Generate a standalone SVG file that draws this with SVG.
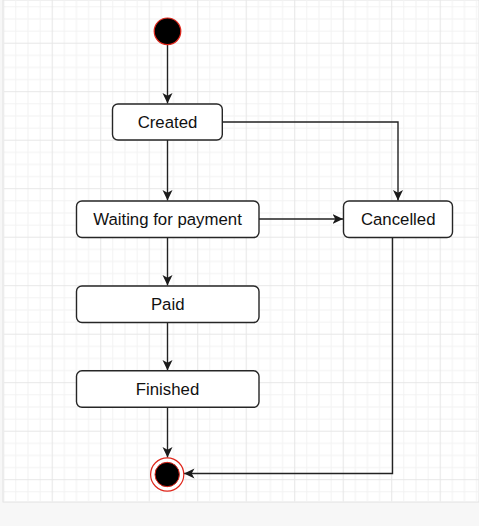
<svg xmlns="http://www.w3.org/2000/svg" width="479" height="526" viewBox="0 0 479 526">
  <defs>
    <pattern id="grid" patternUnits="userSpaceOnUse" x="3.2" y="42.7" width="48.5" height="48.5">
      <g stroke="#f2f2f2" stroke-width="1">
        <line x1="12.6" y1="0" x2="12.6" y2="48.5"/>
        <line x1="24.75" y1="0" x2="24.75" y2="48.5"/>
        <line x1="36.9" y1="0" x2="36.9" y2="48.5"/>
        <line x1="0" y1="12.6" x2="48.5" y2="12.6"/>
        <line x1="0" y1="24.75" x2="48.5" y2="24.75"/>
        <line x1="0" y1="36.9" x2="48.5" y2="36.9"/>
      </g>
      <g stroke="#e7e7e7" stroke-width="1.2">
        <line x1="0.5" y1="0" x2="0.5" y2="48.5"/>
        <line x1="0" y1="0.5" x2="48.5" y2="0.5"/>
      </g>
    </pattern>
    <marker id="arrow" markerUnits="userSpaceOnUse" markerWidth="12" markerHeight="11" refX="10.5" refY="5" orient="auto">
      <path d="M0,0 L10.5,5 L0,10 L2.8,5 Z" fill="#1a1a1a"/>
    </marker>
    <style>
      .state { fill: #ffffff; stroke: #262626; stroke-width: 1.4; }
      .label { font-family: "Liberation Sans", Arial, sans-serif; font-size: 16.8px; fill: #111111; text-anchor: middle; }
      .edge { fill: none; stroke: #222222; stroke-width: 1.4; marker-end: url(#arrow); }
    </style>
  </defs>

  <!-- page background -->
  <rect x="0" y="0" width="479" height="526" fill="#f7f7f7"/>
  <rect x="3" y="0" width="476" height="502" fill="#ffffff" stroke="#e2e2e2" stroke-width="1"/>
  <rect x="3.5" y="0" width="475.5" height="501.5" fill="url(#grid)"/>

  <!-- connectors -->
  <g id="connectors">
    <path class="edge" d="M167.5,45 L167.5,103.5"/>
    <path class="edge" d="M167.5,140 L167.5,200.5"/>
    <path class="edge" d="M222.3,122 L398,122 L398,200.5"/>
    <path class="edge" d="M259,219 L343,219"/>
    <path class="edge" d="M167.5,237.5 L167.5,285.5"/>
    <path class="edge" d="M167.5,322.5 L167.5,370.5"/>
    <path class="edge" d="M167.5,407.3 L167.5,457.5"/>
    <path class="edge" d="M392.5,237.5 L392.5,473.5 L184,473.5"/>
  </g>

  <!-- nodes -->
  <g id="start">
    <circle cx="167.5" cy="31.3" r="13.3" fill="#000000" stroke="#e0261b" stroke-width="1.2"/>
  </g>
  <g id="created">
    <rect class="state" x="112.5" y="104" width="109.8" height="36" rx="5.5"/>
    <text class="label" x="167.5" y="128.2">Created</text>
  </g>
  <g id="waiting">
    <rect class="state" x="76.5" y="201" width="182.5" height="36.5" rx="5.5"/>
    <text class="label" x="167.5" y="225.2">Waiting for payment</text>
  </g>
  <g id="cancelled">
    <rect class="state" x="343.5" y="201" width="109" height="36.5" rx="5.5"/>
    <text class="label" x="398.2" y="225.2">Cancelled</text>
  </g>
  <g id="paid">
    <rect class="state" x="76.5" y="286" width="182.5" height="36.5" rx="5.5"/>
    <text class="label" x="167.7" y="310.3">Paid</text>
  </g>
  <g id="finished">
    <rect class="state" x="76.5" y="370.8" width="182.5" height="36.5" rx="5.5"/>
    <text class="label" x="167.5" y="395">Finished</text>
  </g>
  <g id="end">
    <circle cx="167.2" cy="474.5" r="16.6" fill="#ffffff" stroke="#e0261b" stroke-width="1.2"/>
    <circle cx="167.2" cy="474.5" r="12.2" fill="#000000" stroke="#e0261b" stroke-width="1"/>
  </g>
</svg>
